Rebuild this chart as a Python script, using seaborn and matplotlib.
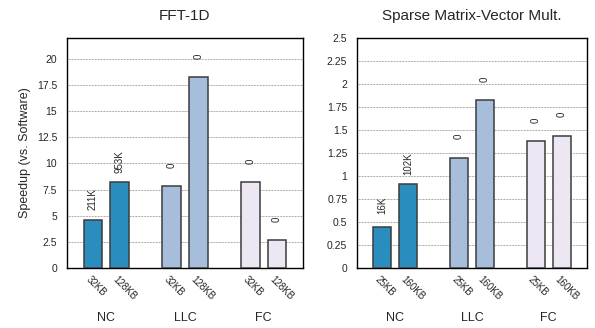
import numpy as np
import pandas as pd
import matplotlib
matplotlib.use('Agg')
import matplotlib.pyplot as plt
import seaborn as sns
from matplotlib.ticker import FuncFormatter

sns.set_style('white')
plt.rcParams['font.family'] = ['Liberation Sans', 'DejaVu Sans']

# ---- data ----
groups = ['NC', 'LLC', 'FC']
group_colors = ['#2b8cbe', '#a6bddb', '#ece7f2']

fft_sizes = ['32KB', '128KB']
fft_small = [4.6, 7.8, 8.2]
fft_large = [8.2, 18.3, 2.65]
fft_small_notes = ['211K', '0', '0']
fft_large_notes = ['953K', '0', '0']
fft_ticks = [0, 2.5, 5, 7.5, 10, 12.5, 15, 17.5, 20]

spmv_sizes = ['25KB', '160KB']
spmv_small = [0.45, 1.20, 1.38]
spmv_large = [0.91, 1.83, 1.44]
spmv_small_notes = ['16K', '0', '0']
spmv_large_notes = ['102K', '0', '0']
spmv_ticks = [0, 0.25, 0.5, 0.75, 1, 1.25, 1.5, 1.75, 2, 2.25, 2.5]


def make_df(sizes, small, large, small_notes, large_notes):
    rows = []
    for i, g in enumerate(groups):
        rows.append({'group': g, 'size': sizes[0], 'speedup': small[i], 'note': small_notes[i]})
        rows.append({'group': g, 'size': sizes[1], 'speedup': large[i], 'note': large_notes[i]})
    return pd.DataFrame(rows)


def draw(ax, df, sizes, title, ticks, ymax):
    sns.barplot(data=df, x='group', y='speedup', hue='size', order=groups,
                hue_order=sizes, width=0.68, gap=0.3, legend=False,
                ax=ax, zorder=3)
    # colour by group, label each bar
    for k, cont in enumerate(ax.containers):
        for bar in cont:
            cx = bar.get_x() + bar.get_width() / 2
            gi = int(round(cx))
            bar.set_facecolor(group_colors[gi])
            bar.set_edgecolor('#3c3c3c')
            bar.set_linewidth(1.1)
            row = df[(df['group'] == groups[gi]) & (df['size'] == sizes[k])].iloc[0]
            ax.annotate(row['note'], xy=(cx, row['speedup']), xytext=(0, 15),
                        textcoords='offset points', rotation=90,
                        ha='center', va='center', fontsize=7)
            ax.annotate(sizes[k], xy=(cx, 0), xycoords=('data', 'axes fraction'),
                        xytext=(-1.5, -4.5), textcoords='offset points',
                        rotation=-45, rotation_mode='anchor',
                        ha='left', va='top', fontsize=7)
    for i, g in enumerate(groups):
        ax.annotate(g, xy=(i, 0), xycoords=('data', 'axes fraction'),
                    xytext=(0, -36), textcoords='offset points',
                    ha='center', va='center', fontsize=9)

    ax.set_xlim(-0.5, 2.5)
    ax.set_ylim(0, ymax)
    ax.set_yticks(ticks)
    ax.yaxis.set_major_formatter(FuncFormatter(lambda v, p: '%g' % v))
    ax.set_xticks([])
    ax.set_xlabel('')
    ax.set_ylabel('')
    ax.tick_params(axis='y', length=0, labelsize=7.5, pad=7)
    for y in ticks[1:]:
        if y < ymax:
            ax.axhline(y, color='#555555', linestyle=(0, (1, 1.2)), linewidth=0.5, zorder=1)
    for s in ax.spines.values():
        s.set_visible(True)
        s.set_color('black')
        s.set_linewidth(1.0)
    ax.set_title(title, fontsize=11, pad=13)


fig = plt.figure(figsize=(5.95, 3.28), dpi=100)
ax1 = fig.add_axes([0.1126, 0.183, 0.3966, 0.701])
ax2 = fig.add_axes([0.600, 0.183, 0.3866, 0.701])

draw(ax1, make_df(fft_sizes, fft_small, fft_large, fft_small_notes, fft_large_notes),
     fft_sizes, 'FFT-1D', fft_ticks, 22)
draw(ax2, make_df(spmv_sizes, spmv_small, spmv_large, spmv_small_notes, spmv_large_notes),
     spmv_sizes, 'Sparse Matrix-Vector Mult.', spmv_ticks, 2.5)

ax1.set_ylabel('Speedup (vs. Software)', fontsize=9, labelpad=4)

fig.savefig('out.png', dpi=100)
